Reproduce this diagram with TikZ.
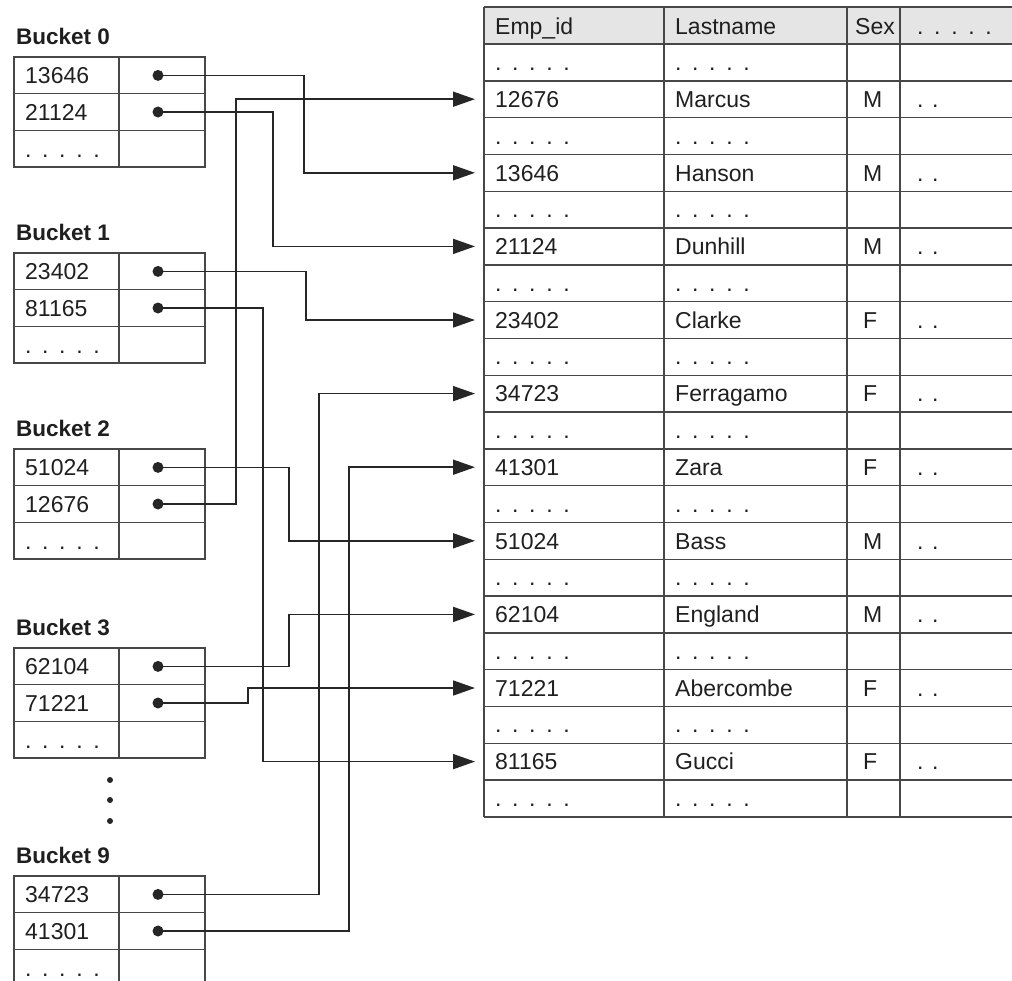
\documentclass[tikz,border=0pt]{standalone}
\usepackage{fontspec}
\setmainfont{Liberation Sans}
\usetikzlibrary{arrows.meta,calc}
\newcommand\dd{{\spaceskip=8.5pt\relax . . . . .}}
\newcommand\tw{{\spaceskip=6.5pt\relax . .}}
\newcommand\bucketbox[5]{%
  \node[lbl] (lab#1) at (16,#2-13) {Bucket #3};
  \draw[grid] (14,#2) rectangle (205,#2+110);
  \draw[grid] (119,#2) -- (119,#2+110);
  \draw[grid] (14,#2+36.7) -- (205,#2+36.7);
  \draw[grid] (14,#2+73.3) -- (205,#2+73.3);
  \node[txt] (k#1a) at (25,#2+26.6) {#4};
  \node[txt] (k#1b) at (25,#2+63.2) {#5};
  \node[txt] (k#1c) at (25,#2+100) {\dd};
  \coordinate (p#1a) at (158,#2+18.4);
  \coordinate (p#1b) at (158,#2+55);
}
\begin{document}
\begin{tikzpicture}[x=1pt,y=-1pt,
  grid/.style={draw=black!72,line width=1.4pt},
  conn/.style={draw=black!85,line width=1.7pt},
  arr/.style={conn,-{Triangle[length=22pt,width=15pt]}},
  ptr/.style={circle,fill=black!85,inner sep=0pt,minimum size=11pt},
  vdot/.style={circle,fill=black!85,inner sep=0pt,minimum size=6pt},
  txt/.style={anchor=base west,inner sep=0pt,font=\fontsize{23}{27}\selectfont,text=black!88},
  lbl/.style={txt,font=\fontsize{22.5}{27}\selectfont\bfseries}]
\useasboundingbox (0,0) rectangle (1012,980);

% ---------- table ----------
\fill[black!10] (484,7) rectangle (1012,44);
\draw[grid] (484,7) -- (1012,7);
\foreach \r in {0,...,21} \draw[grid] (484,{44+\r*36.8}) -- (1012,{44+\r*36.8});
\foreach \x in {484,664,847,900} \draw[grid] (\x,7) -- (\x,817);
\node[txt] (hEmp) at (495,34) {Emp\_id};
\node[txt] (hLast) at (675,34) {Lastname};
\node[txt] (hSex) at (855,34) {Sex};
\node[txt] (hMore) at (917,34) {\dd};
\foreach \r in {0,...,10}{
  \pgfmathsetmacro\yc{44+(0.5+2*\r)*36.8}
  \node[txt] (da\r) at (495,\yc+8) {\dd};
  \node[txt] (db\r) at (675,\yc+8) {\dd};
}
\foreach \id/\nm/\sx [count=\i from 0] in {12676/Marcus/M,13646/Hanson/M,21124/Dunhill/M,23402/Clarke/F,34723/Ferragamo/F,41301/Zara/F,51024/Bass/M,62104/England/M,71221/Abercombe/F,81165/Gucci/F}{
  \pgfmathsetmacro\yc{44+(1.5+2*\i)*36.8}
  \node[txt] (e\id) at (495,\yc+8.3) {\id};
  \node[txt] (n\id) at (675,\yc+8.3) {\nm};
  \node[txt] (s\id) at (863,\yc+8.3) {\sx};
  \node[txt] (m\id) at (917,\yc+8.3) {\tw};
  \coordinate (t\id) at (475,\yc);
}

% ---------- buckets ----------
\bucketbox{0}{57}{0}{13646}{21124}
\bucketbox{1}{253}{1}{23402}{81165}
\bucketbox{2}{449}{2}{51024}{12676}
\bucketbox{3}{648}{3}{62104}{71221}
\bucketbox{9}{876}{9}{34723}{41301}
\node[vdot] (v1) at (110,780) {};
\node[vdot] (v2) at (110,800) {};
\node[vdot] (v3) at (110,821) {};

% ---------- turn columns ----------
\coordinate (c1) at (304,0);
\coordinate (c2) at (273,0);
\coordinate (c3) at (236,0);
\coordinate (c4) at (306,0);
\coordinate (c5) at (263,0);
\coordinate (c6) at (289,0);
\coordinate (c7) at (248,0);
\coordinate (c8) at (319,0);
\coordinate (c9) at (349,0);

% ---------- connectors ----------
\draw[arr] (p0a) -- (p0a -| c1) |- (t13646);
\draw[arr] (p0b) -- (p0b -| c2) |- (t21124);
\draw[arr] (p2b) -- (p2b -| c3) |- (t12676);
\draw[arr] (p1a) -- (p1a -| c4) |- (t23402);
\draw[arr] (p1b) -- (p1b -| c5) |- (t81165);
\draw[arr] (p2a) -- (p2a -| c6) |- (t51024);
\draw[arr] (p3a) -- (p3a -| c6) |- (t62104);
\draw[arr] (p3b) -- (p3b -| c7) |- (t71221);
\draw[arr] (p9a) -- (p9a -| c8) |- (t34723);
\draw[arr] (p9b) -- (p9b -| c9) |- (t41301);

\foreach \b in {0,1,2,3,9}{
  \node[ptr] (d\b a) at (p\b a) {};
  \node[ptr] (d\b b) at (p\b b) {};
}
\end{tikzpicture}
\end{document}
